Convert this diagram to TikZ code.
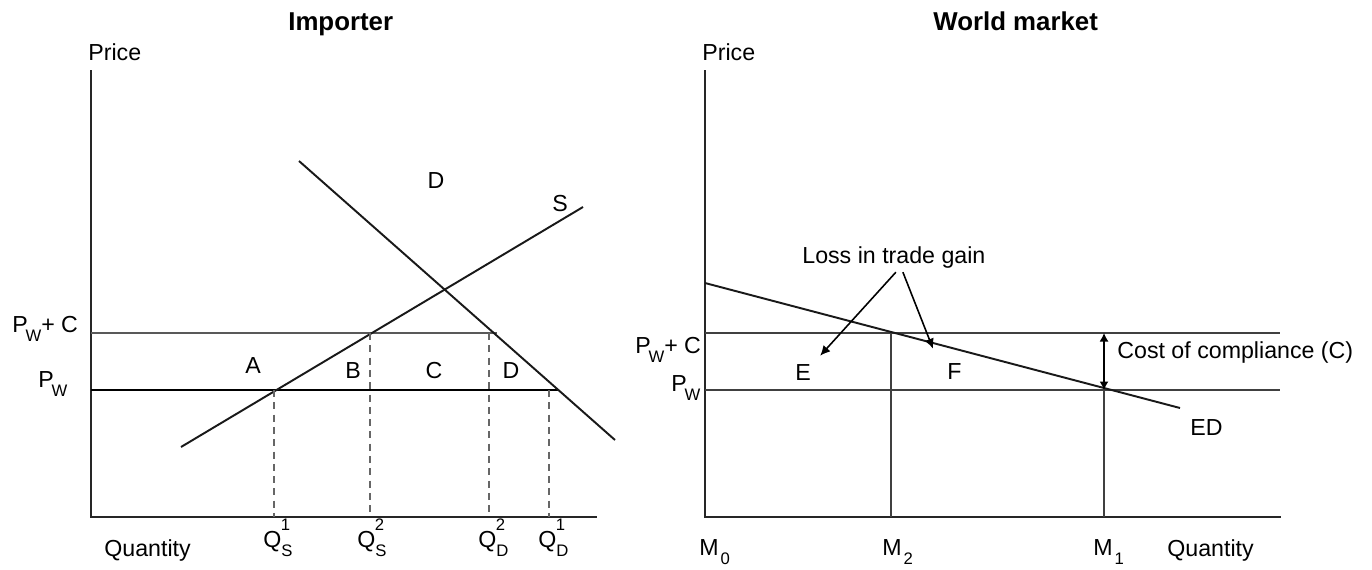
\documentclass[tikz,border=0pt]{standalone}
\usepackage{fontspec}
\setmainfont{Liberation Sans}
\usetikzlibrary{arrows.meta}
\newcommand{\lowsub}[3][-0.1em]{#2\hspace{#1}\raisebox{-0.4em}{\fontsize{9.5}{10}\selectfont #3}}
\newcommand{\supandsub}[3]{#1\rlap{\hspace{-0.02em}\raisebox{0.72em}{\fontsize{9.5}{10}\selectfont #2}}\raisebox{-0.42em}{\fontsize{9.5}{10}\selectfont #3}}

\begin{document}
\begin{tikzpicture}[
  x=0.02cm,y=-0.02cm,
  txt/.style={inner sep=0pt,font=\fontsize{13.2}{15}\selectfont},
  ttl/.style={inner sep=0pt,font=\fontsize{14.7}{17}\selectfont\bfseries},
  axis/.style={line width=0.9pt,black!85},
  curve/.style={line width=1.1pt,black!90},
  level/.style={line width=0.6pt,black!75},
  guide/.style={line width=0.65pt,black!60,dash pattern=on 4pt off 3pt},
  arrow/.style={-{Latex[length=2mm,width=1.9mm]},line width=0.9pt}
]
\useasboundingbox (0,0) rectangle (1372,569);

% importer panel
\node[ttl,anchor=base west] (imptitle) at (288,30) {Importer};
\node[txt,anchor=base west] (impprice) at (88,60) {Price};
\node[txt,anchor=base west] (impqty) at (104,556) {Quantity};
\draw[axis] (91,70) -- (91,517) -- (597,517);

\draw[level,black!65] (91,333) -- (497,333);
\draw[level,black] (91,390) -- (558,390);
\draw[curve] (181,447) -- (583,207);
\draw[curve] (299,161) -- (615,440);
\draw[guide] (274,390) -- (274,517);
\draw[guide] (370,333) -- (370,517);
\draw[guide] (489,333) -- (489,517);
\draw[guide] (549,390) -- (549,517);

\node[txt,anchor=base west] (imppwc) at (12,332) {\lowsub{P}{W}+ C};
\node[txt,anchor=base west] (imppw) at (38,387) {\lowsub{P}{W}};
\node[txt] (areaA) at (253,366) {A};
\node[txt] (areaB) at (353,371) {B};
\node[txt] (areaC) at (434,371) {C};
\node[txt] (areaD) at (511,371) {D};
\node[txt] (dlab) at (436,181) {D};
\node[txt] (slab) at (560,204) {S};
\node[txt,anchor=base west] (qs1) at (263,547) {\supandsub{Q}{1}{S}};
\node[txt,anchor=base west] (qs2) at (357,547) {\supandsub{Q}{2}{S}};
\node[txt,anchor=base west] (qd2) at (478,547) {\supandsub{Q}{2}{D}};
\node[txt,anchor=base west] (qd1) at (538,547) {\supandsub{Q}{1}{D}};

% world market panel
\node[ttl,anchor=base west] (wldtitle) at (933,30) {World market};
\node[txt,anchor=base west] (wldprice) at (702,60) {Price};
\node[txt,anchor=base west] (wldqty) at (1167,556) {Quantity};
\draw[axis] (705,70) -- (705,517) -- (1281,517);

\coordinate (m2top) at (891,333);
\coordinate (m1top) at (1104,333);
\coordinate (m1pw) at (1104,390);
\draw[level] (705,333) -- (1280,333);
\draw[level] (705,390) -- (1280,390);
\draw[level] (m2top) -- (891,517);
\draw[level] (m1pw) -- (1104,517);
\draw[curve] (705,283) -- (1180,408);
\draw[{Latex[length=1.7mm,width=1.8mm]}-{Latex[length=1.7mm,width=1.8mm]},line width=0.8pt] (m1top) -- (m1pw);

\node[txt,anchor=base west] (wldpwc) at (635,353) {\lowsub{P}{W}+ C};
\node[txt,anchor=base west] (wldpw) at (671,391) {\lowsub{P}{W}};
\node[txt,anchor=base west] (cost) at (1117,358) {Cost of compliance (C)};
\node[txt,anchor=base west] (edlab) at (1190,435) {ED};
\node[txt,anchor=base west] (loss) at (802,263) {Loss in trade gain};
\node[txt,anchor=base west] (areaE) at (795,380) {E};
\node[txt,anchor=base west] (areaF) at (947,379) {F};
\draw[arrow] ([shift={(2,4)}]loss.south) -- ([shift={(9,-8)}]areaE.north east);
\draw[arrow] ([shift={(9,4)}]loss.south) -- ([shift={(-14,-14)}]areaF.north west);
\node[txt,anchor=base west] (m0) at (699,555) {\lowsub[0.08em]{M}{0}};
\node[txt,anchor=base west] (m2) at (882,555) {\lowsub[0.08em]{M}{2}};
\node[txt,anchor=base west] (m1) at (1093,555) {\lowsub[0.08em]{M}{1}};
\end{tikzpicture}
\end{document}
